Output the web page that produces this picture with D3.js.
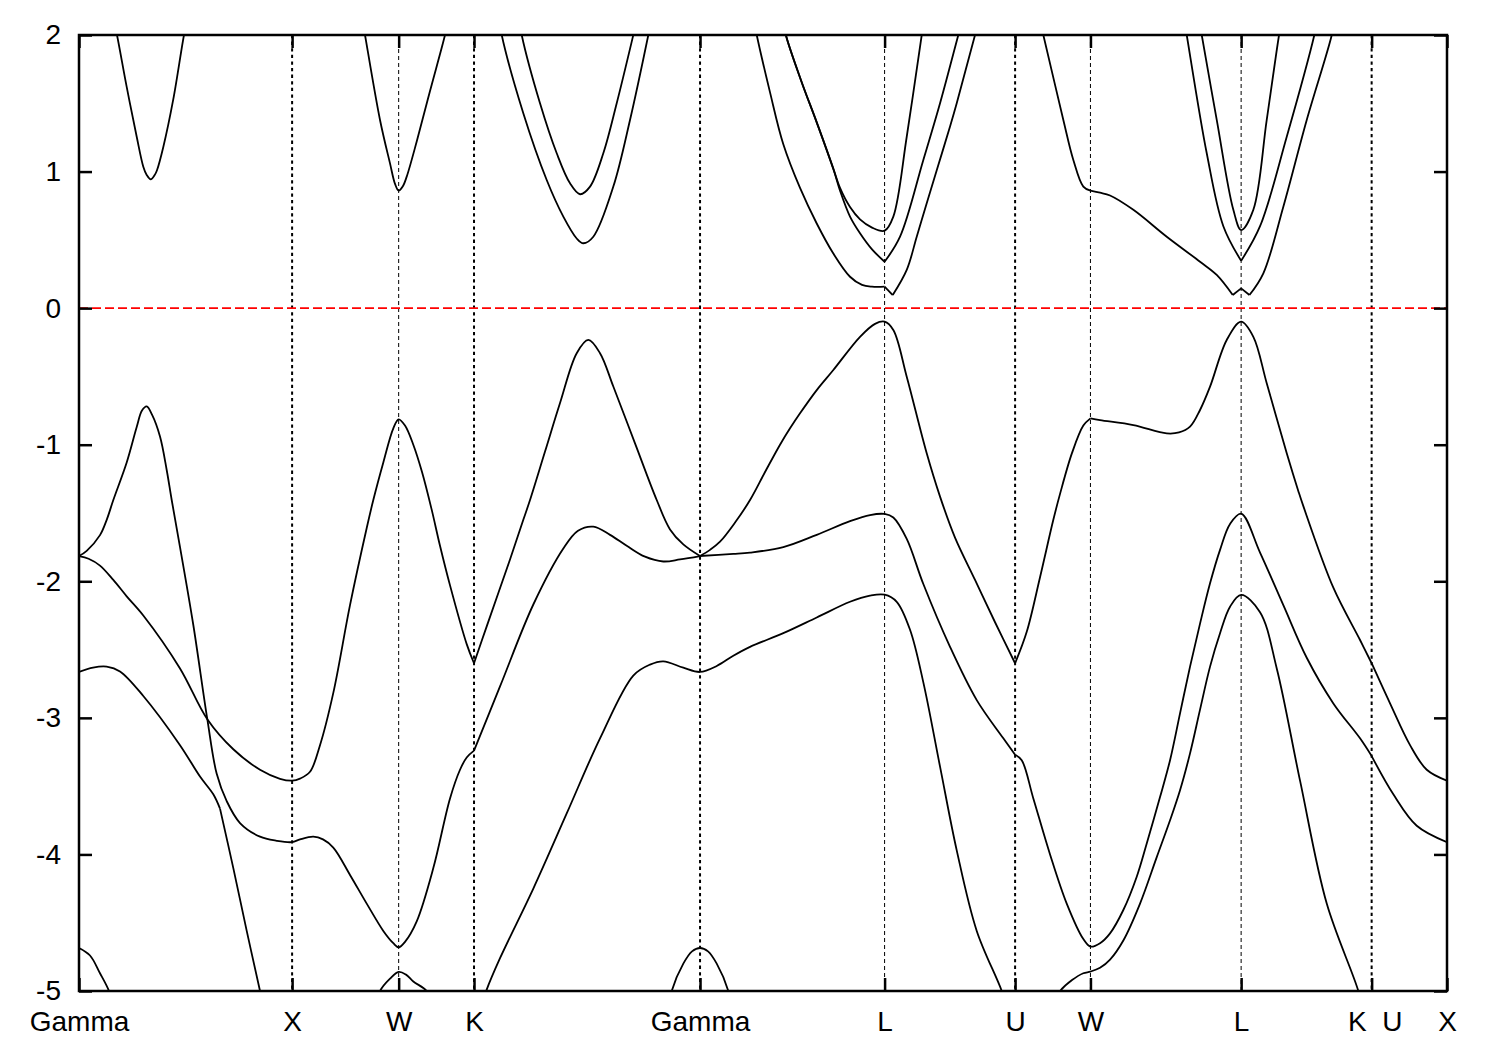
<!DOCTYPE html>
<html>
<head>
<meta charset="utf-8">
<script src="https://cdn.jsdelivr.net/npm/d3@7"></script>
<style>
  html, body { margin: 0; padding: 0; background: #fff; }
  svg { display: block; }
</style>
</head>
<body>
<script>
// ---------- DATA ----------
// High-symmetry points (path length in units of 2π/a) and their labels
const kPoints = [0, 1.0, 1.5, 1.8536, 2.9142, 3.7802, 4.3926, 4.7462, 5.4533, 6.0657, 6.4193];
const kLabels = ["Gamma", "X", "W", "K", "Gamma", "L", "U", "W", "L", "K\u00a0\u00a0U", "X"];
const energyTicks = [-5, -4, -3, -2, -1, 0, 1, 2];
const fermiLevel = 0;

// Bands: [k, E] ; a third element 1 marks a cusp (non-smooth point)
const valence1 = [
  [0, -1.815, 1], [0.0361, -1.777], [0.0985, -1.662], [0.1300, -1.55], [0.1610, -1.405], [0.2238, -1.13],
  [0.2708, -0.87], [0.2956, -0.75], [0.3177, -0.72], [0.3426, -0.78], [0.3801, -0.94], [0.4115, -1.185],
  [0.4350, -1.405], [0.4740, -1.75], [0.5364, -2.32], [0.6021, -3.01], [0.6462, -3.41], [0.6931, -3.61],
  [0.7555, -3.77], [0.8494, -3.87], [0.9277, -3.90], [1.0, -3.91], [1.0371, -3.89], [1.0995, -3.87],
  [1.1450, -3.89], [1.1933, -3.95], [1.2717, -4.15], [1.3501, -4.36], [1.4280, -4.56], [1.4749, -4.65],
  [1.5, -4.68], [1.5298, -4.64], [1.5847, -4.49], [1.6626, -4.10], [1.7410, -3.59], [1.7879, -3.38],
  [1.8193, -3.29], [1.8536, -3.24, 1], [1.9756, -2.77], [2.1319, -2.17], [2.2727, -1.76], [2.3416, -1.63],
  [2.4134, -1.60], [2.4918, -1.66], [2.5701, -1.74], [2.6560, -1.82], [2.7419, -1.855], [2.8203, -1.84],
  [2.9142, -1.815, 1], [3.0704, -1.80], [3.1488, -1.79], [3.3050, -1.75], [3.4618, -1.66], [3.6180, -1.56],
  [3.7119, -1.515], [3.7802, -1.507], [3.8212, -1.533], [3.8841, -1.69], [3.9620, -2.02], [4.0873, -2.48],
  [4.2126, -2.87], [4.3374, -3.15], [4.3926, -3.27, 1], [4.4237, -3.31], [4.4782, -3.59], [4.5566, -4.0],
  [4.6349, -4.36], [4.7128, -4.62], [4.7462, -4.675], [4.7912, -4.65], [4.8381, -4.578], [4.9005, -4.407],
  [4.9634, -4.163], [5.0103, -3.92], [5.0727, -3.58], [5.1197, -3.31], [5.1666, -2.967], [5.2135, -2.625],
  [5.2604, -2.31], [5.3074, -2.015], [5.3543, -1.77], [5.4012, -1.58], [5.4533, -1.505], [5.5420, -1.79],
  [5.6513, -2.175], [5.7611, -2.56], [5.8860, -2.894], [6.0113, -3.15], [6.0657, -3.28, 1], [6.1675, -3.56],
  [6.2773, -3.79], [6.4193, -3.91]
];

const valence2 = [
  [0, -1.815, 1], [0.0450, -1.835], [0.0985, -1.885], [0.1610, -1.99], [0.2238, -2.11], [0.3017, -2.25],
  [0.4740, -2.638], [0.6021, -3.01],
  [0.7241, -3.23], [0.8494, -3.38], [0.9432, -3.446], [1.0, -3.46], [1.0371, -3.445], [1.0840, -3.395],
  [1.1309, -3.20], [1.1933, -2.817], [1.2717, -2.175], [1.3501, -1.61], [1.3810, -1.405], [1.4280, -1.13],
  [1.4749, -0.88], [1.5, -0.814], [1.5298, -0.86], [1.5687, -1.0], [1.6096, -1.2], [1.6541, -1.47],
  [1.6940, -1.74], [1.7410, -2.03], [1.8193, -2.46], [1.8536, -2.60, 1], [1.9132, -2.33], [2.0225, -1.84],
  [2.0849, -1.55], [2.1164, -1.405], [2.1868, -1.05], [2.2572, -0.695], [2.3355, -0.33], [2.3900, -0.233],
  [2.4449, -0.33], [2.5073, -0.574], [2.6091, -0.99], [2.7109, -1.405], [2.7733, -1.62], [2.8357, -1.73],
  [2.9142, -1.815, 1], [2.9610, -1.77], [3.0080, -1.71], [3.0784, -1.57], [3.1488, -1.405], [3.2192, -1.2],
  [3.2895, -1.0], [3.3365, -0.88], [3.3834, -0.77], [3.4618, -0.60], [3.5397, -0.453], [3.6649, -0.21],
  [3.7353, -0.115], [3.7802, -0.099], [3.8212, -0.16], [3.8841, -0.502], [3.9779, -1.063], [4.0404, -1.38],
  [4.1107, -1.68], [4.2046, -1.99], [4.2985, -2.3], [4.3926, -2.60, 1], [4.4472, -2.37], [4.5096, -1.97],
  [4.5720, -1.55], [4.6035, -1.36], [4.6598, -1.06], [4.7128, -0.86], [4.7462, -0.807, 1], [4.7912, -0.82],
  [4.9475, -0.856], [5.1042, -0.917], [5.1619, -0.91], [5.2135, -0.868], [5.2604, -0.746], [5.3074, -0.575],
  [5.3857, -0.233], [5.4533, -0.099], [5.5106, -0.21], [5.5734, -0.55], [5.6673, -1.063], [5.7218, -1.34],
  [5.7452, -1.45], [5.8860, -2.047], [6.0113, -2.43], [6.0657, -2.60, 1], [6.1520, -2.894], [6.2459, -3.20],
  [6.3243, -3.38], [6.4193, -3.46]
];

const valence3a = [
  [0, -2.664], [0.0657, -2.632], [0.1300, -2.625], [0.1924, -2.66], [0.3017, -2.84], [0.4740, -3.20],
  [0.5678, -3.43], [0.6302, -3.56], [0.6617, -3.665, 1], [0.7241, -4.10], [0.7870, -4.56], [0.8494, -5.0],
  [0.8775, -5.2]
];
const valence3b = [
  [1.3843, -5.15], [1.4125, -5.0], [1.4594, -4.91], [1.5, -4.86], [1.5345, -4.88], [1.5687, -4.93],
  [1.6316, -5.0], [1.6612, -5.1]
];
const valence3c = [
  [1.8817, -5.15], [1.9132, -4.99], [1.9756, -4.76], [2.1319, -4.25], [2.2886, -3.70], [2.4449, -3.15],
  [2.6011, -2.69], [2.6795, -2.61], [2.7419, -2.586], [2.8357, -2.633], [2.9142, -2.664], [2.9925, -2.62],
  [3.0704, -2.545], [3.1488, -2.48], [3.3050, -2.38], [3.4618, -2.265], [3.6180, -2.15], [3.7119, -2.105],
  [3.7802, -2.098], [3.8372, -2.15], [3.8996, -2.355], [3.9620, -2.74], [4.0404, -3.357], [4.1187, -3.97],
  [4.2126, -4.56], [4.3299, -5.0], [4.3595, -5.15]
];
const valence3d = [
  [4.5566, -5.12], [4.6035, -5.0], [4.6598, -4.92], [4.7128, -4.87], [4.7462, -4.858], [4.7912, -4.83],
  [4.8381, -4.77], [4.9005, -4.63], [4.9789, -4.36], [5.0573, -4.02], [5.1197, -3.75], [5.1666, -3.53],
  [5.2135, -3.26], [5.2604, -2.94], [5.3074, -2.625], [5.3543, -2.38], [5.4012, -2.186], [5.4533, -2.10],
  [5.5420, -2.226], [5.6204, -2.638], [5.7297, -3.46], [5.8550, -4.36], [6.0033, -5.0], [6.0347, -5.2]
];
const valence4a = [
  [0, -4.685], [0.0516, -4.74], [0.0985, -4.87], [0.1408, -5.0], [0.1689, -5.15]
];
const valence4b = [
  [2.7640, -5.15], [2.7813, -5.0], [2.8357, -4.80], [2.8766, -4.71], [2.9142, -4.685], [2.9517, -4.71],
  [2.9925, -4.80], [3.0469, -5.0], [3.0643, -5.15]
];

const conduction1a = [
  [0.1642, 2.1], [0.1783, 2.0], [0.2238, 1.62], [0.2708, 1.255], [0.3017, 1.036], [0.3177, 0.975],
  [0.3365, 0.943], [0.3552, 0.975], [0.3660, 1.01], [0.3956, 1.18], [0.4425, 1.53], [0.4927, 2.0],
  [0.5068, 2.1]
];
const conduction1b = [
  [1.3308, 2.1], [1.3421, 2.0], [1.4125, 1.378], [1.4594, 1.06], [1.4829, 0.91], [1.5, 0.86],
  [1.5189, 0.89], [1.5378, 0.963], [1.5847, 1.22], [1.6471, 1.59], [1.7175, 2.0], [1.7316, 2.1]
];
const conduction1c = [
  [1.9733, 2.1], [1.9836, 2.0], [2.0849, 1.427], [2.1947, 0.938], [2.2727, 0.67], [2.3355, 0.51],
  [2.3665, 0.475], [2.4134, 0.523], [2.5073, 0.89], [2.5856, 1.378], [2.6715, 2.0], [2.6842, 2.1]
];
const conduction2c = [
  [2.0671, 2.1], [2.0774, 2.0], [2.1633, 1.50], [2.2417, 1.134], [2.3041, 0.914], [2.3510, 0.834],
  [2.3980, 0.89], [2.4603, 1.134], [2.5232, 1.50], [2.6011, 2.0], [2.6161, 2.1]
];
const conduction1d = [
  [3.1675, 2.1], [3.1802, 2.0], [3.2426, 1.58], [3.3050, 1.2], [3.3834, 0.88], [3.4618, 0.62],
  [3.5397, 0.40], [3.6180, 0.23], [3.6743, 0.17], [3.7213, 0.157], [3.7802, 0.157, 1], [3.8184, 0.096, 1],
  [3.8841, 0.28], [3.9310, 0.523], [3.9779, 0.768], [4.0249, 1.01], [4.0873, 1.33], [4.1187, 1.50],
  [4.2046, 2.0], [4.2234, 2.1]
];
const conduction2d = [
  [3.3060, 2.1], [3.3170, 2.0], [3.3900, 1.66], [3.4618, 1.36], [3.5397, 1.02], [3.5711, 0.86],
  [3.6180, 0.67], [3.6649, 0.548], [3.7213, 0.43], [3.7802, 0.34, 1], [3.8527, 0.523], [3.9620, 1.085],
  [4.0404, 1.50], [4.1262, 2.0], [4.1436, 2.1]
];
const conduction3d = [
  [3.3060, 2.1], [3.3170, 2.0], [3.3900, 1.66], [3.4618, 1.36], [3.5397, 1.02], [3.5711, 0.88],
  [3.6180, 0.74], [3.6649, 0.65], [3.7213, 0.59], [3.7802, 0.567], [3.8212, 0.67], [3.8841, 1.255],
  [3.9545, 2.0], [3.9653, 2.1]
];
const conduction1e = [
  [4.5096, 2.1], [4.5251, 2.0], [4.6190, 1.378], [4.6659, 1.085], [4.7128, 0.89], [4.7462, 0.86, 1],
  [4.7912, 0.845], [4.8381, 0.825], [4.9475, 0.72], [5.1042, 0.523], [5.2604, 0.34], [5.3388, 0.243],
  [5.4139, 0.096, 1], [5.4533, 0.145, 1], [5.4923, 0.096, 1], [5.5575, 0.255], [5.6513, 0.743],
  [5.7611, 1.378], [5.8785, 2.0], [5.8893, 2.1]
];
const conduction2e = [
  [5.1873, 2.1], [5.1980, 2.0], [5.2919, 1.134], [5.3698, 0.60], [5.4533, 0.347, 1], [5.5420, 0.60],
  [5.6673, 1.255], [5.7968, 2.0], [5.8095, 2.1]
];
const conduction3e = [
  [5.2572, 2.1], [5.2684, 2.0], [5.3388, 1.378], [5.4167, 0.72], [5.4533, 0.572], [5.5106, 0.72],
  [5.5734, 1.378], [5.6312, 2.0], [5.6429, 2.1]
];

const bands = [
  valence1, valence2, valence3a, valence3b, valence3c, valence3d, valence4a, valence4b,
  conduction1a, conduction1b, conduction1c, conduction2c, conduction1d, conduction2d, conduction3d,
  conduction1e, conduction2e, conduction3e
];

// ---------- CHART ----------
const W = 1500, H = 1050;
const plot = { left: 79, right: 1447, top: 35, bottom: 991 };
const FONT = "'Liberation Sans', Arial, Helvetica, sans-serif";

const svg = d3.select("body").append("svg")
  .attr("width", W).attr("height", H)
  .style("background", "#fff");

const x = d3.scaleLinear().domain([kPoints[0], kPoints[kPoints.length - 1]]).range([plot.left, plot.right]);
const y = d3.scaleLinear().domain([-5, 2]).range([plot.bottom, plot.top]);

svg.append("defs").append("clipPath").attr("id", "clip")
  .append("rect")
  .attr("x", plot.left).attr("y", plot.top)
  .attr("width", plot.right - plot.left).attr("height", plot.bottom - plot.top);

// vertical lines at interior high-symmetry points
const interior = kPoints.map((k, i) => ({ k, label: kLabels[i], i }))
  .filter(d => d.i > 0 && d.i < kPoints.length - 1);
svg.append("g").selectAll("line").data(interior).join("line")
  .attr("x1", d => x(d.k)).attr("x2", d => x(d.k))
  .attr("y1", plot.top).attr("y2", plot.bottom)
  .attr("stroke", "#000")
  .attr("stroke-width", d => (d.label === "W" || d.label === "L") ? 1 : 2)
  .attr("stroke-dasharray", d => (d.label === "W" || d.label === "L") ? "4,3" : "3.3,3.3");

// Fermi level
svg.append("line")
  .attr("x1", plot.left).attr("x2", plot.right)
  .attr("y1", y(fermiLevel)).attr("y2", y(fermiLevel))
  .attr("stroke", "#ff0000").attr("stroke-width", 1.8)
  .attr("stroke-dasharray", "9,4");

// split band into pieces at cusp points
function pieces(arr) {
  const out = [];
  let cur = [];
  arr.forEach((p, i) => {
    cur.push(p);
    if (p[2] && i > 0 && i < arr.length - 1) {
      out.push(cur);
      cur = [p];
    }
  });
  if (cur.length > 1) out.push(cur);
  return out;
}

const line = d3.line()
  .x(d => x(d[0])).y(d => y(d[1]))
  .curve(d3.curveCatmullRom.alpha(0.5));

const allPieces = bands.flatMap(pieces);
svg.append("g").attr("clip-path", "url(#clip)")
  .selectAll("path").data(allPieces).join("path")
  .attr("d", line)
  .attr("fill", "none")
  .attr("stroke", "#000")
  .attr("stroke-width", 1.8)
  .attr("stroke-linejoin", "round");

// Axes
function styleAxis(g) {
  g.select(".domain").remove();
  g.selectAll(".tick line").attr("stroke", "#000").attr("stroke-width", 2.5);
  g.selectAll(".tick text").attr("fill", "#000")
    .style("font-family", FONT).style("font-size", "28px");
}

svg.append("g").attr("transform", `translate(${plot.left},0)`)
  .call(d3.axisLeft(y).tickValues(energyTicks).tickSize(-13).tickPadding(18).tickFormat(d => String(d)))
  .call(styleAxis);

svg.append("g").attr("transform", `translate(${plot.right},0)`)
  .call(d3.axisRight(y).tickValues(energyTicks).tickSize(-13).tickFormat(""))
  .call(styleAxis);

svg.append("g").attr("transform", `translate(0,${plot.bottom})`)
  .call(d3.axisBottom(x).tickValues(kPoints).tickSize(-13).tickPadding(20).tickFormat((d, i) => kLabels[i]))
  .call(styleAxis)
  .call(g => g.selectAll(".tick text").attr("dx", (d, i) => kLabels[i].includes("\u00a0") ? 3 : 0));

svg.append("g").attr("transform", `translate(0,${plot.top})`)
  .call(d3.axisTop(x).tickValues(kPoints).tickSize(-13).tickFormat(""))
  .call(styleAxis);

// Frame
svg.append("rect")
  .attr("x", plot.left).attr("y", plot.top)
  .attr("width", plot.right - plot.left).attr("height", plot.bottom - plot.top)
  .attr("fill", "none").attr("stroke", "#000").attr("stroke-width", 2.5);
</script>
</body>
</html>
